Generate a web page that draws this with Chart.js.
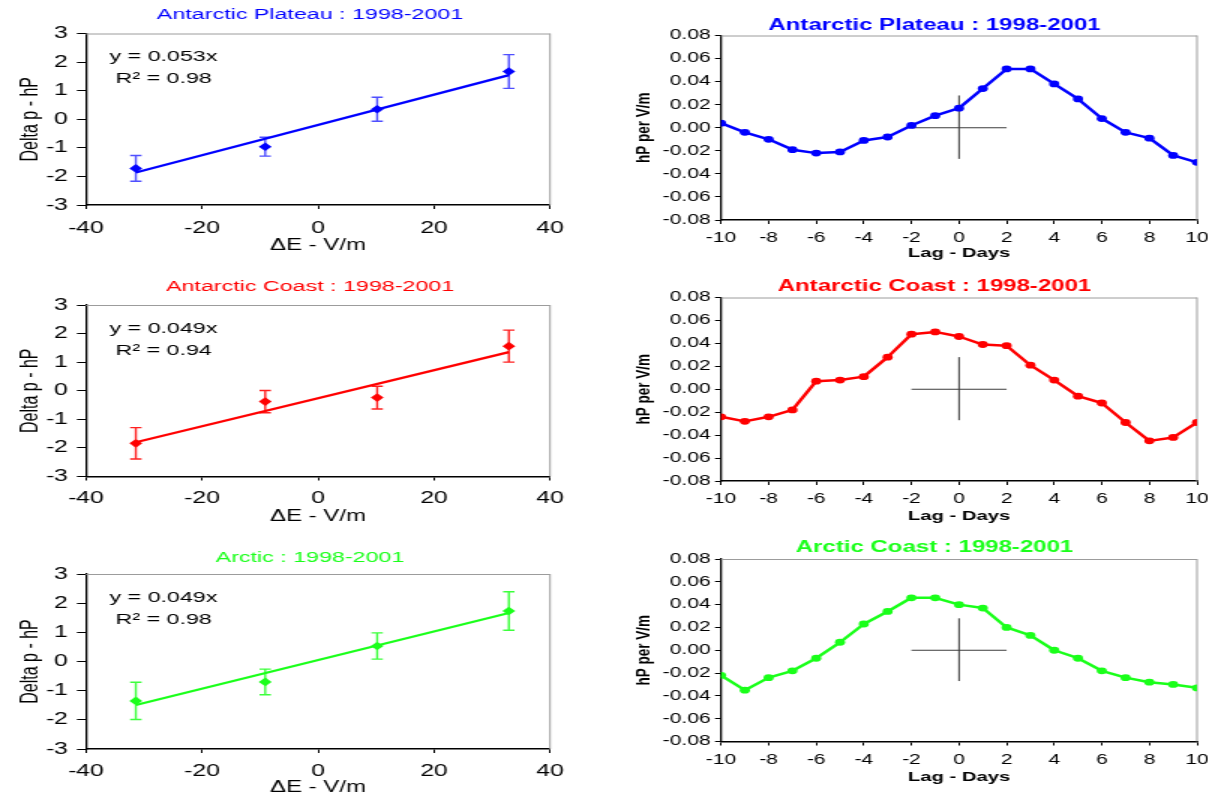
<!DOCTYPE html>
<html>
<head>
<meta charset="utf-8">
<script src="https://cdn.jsdelivr.net/npm/chart.js@4.4.1/dist/chart.umd.min.js"></script>
<style>
  html, body { margin: 0; padding: 0; background: #fff; }
  body { width: 1208px; height: 798px; overflow: hidden; position: relative; }
  .panel { position: absolute; transform-origin: 0 0; transform: scaleX(1.5); }
  .panel canvas { display: block; }
</style>
</head>
<body>
<div class="panel" style="left:0px;top:0px"><canvas id="fitPlateau"></canvas></div>
<div class="panel" style="left:0px;top:265px"><canvas id="fitCoast"></canvas></div>
<div class="panel" style="left:0px;top:535px"><canvas id="fitArctic"></canvas></div>
<div class="panel" style="left:600px;top:0px"><canvas id="lagPlateau"></canvas></div>
<div class="panel" style="left:600px;top:265px"><canvas id="lagCoast"></canvas></div>
<div class="panel" style="left:600px;top:535px"><canvas id="lagArctic"></canvas></div>
<script>
// ---- Pressure response vs. field change (left column) ----
const deltaE = [-31.4, -9.1, 10.2, 32.9];

const plateauDp  = [-1.72, -0.96, 0.35, 1.67];
const plateauErr = [0.45, 0.33, 0.42, 0.59];
const coastDp    = [-1.84, -0.38, -0.24, 1.56];
const coastErr   = [0.55, 0.39, 0.40, 0.56];
const arcticDp   = [-1.35, -0.70, 0.53, 1.73];
const arcticErr  = [0.64, 0.44, 0.45, 0.66];

const fitSlope  = [0.053, 0.049, 0.049];
const fitOffset = [-0.20, -0.26, 0.05];
const fitR2     = [0.98, 0.94, 0.98];

const fitXTicks = [-40, -20, 0, 20, 40];
const fitYTicks = [-3, -2, -1, 0, 1, 2, 3];

// ---- Lagged regression, hP per V/m (right column) ----
const lagDays = [-10, -9, -8, -7, -6, -5, -4, -3, -2, -1, 0, 1, 2, 3, 4, 5, 6, 7, 8, 9, 10];
const plateauLag = [0.004, -0.004, -0.010, -0.019, -0.022, -0.021, -0.011, -0.008, 0.002, 0.0105, 0.017,
                    0.034, 0.051, 0.051, 0.038, 0.025, 0.008, -0.004, -0.009, -0.024, -0.030];
const coastLag   = [-0.024, -0.028, -0.024, -0.018, 0.007, 0.008, 0.011, 0.028, 0.048, 0.050, 0.046,
                    0.039, 0.038, 0.021, 0.008, -0.006, -0.012, -0.029, -0.045, -0.042, -0.029];
const arcticLag  = [-0.022, -0.035, -0.024, -0.018, -0.007, 0.007, 0.023, 0.034, 0.046, 0.046, 0.040,
                    0.037, 0.020, 0.013, 0.000, -0.007, -0.018, -0.024, -0.028, -0.030, -0.033];

const lagXTicks = [-10, -8, -6, -4, -2, 0, 2, 4, 6, 8, 10];
const lagYTicks = [-0.08, -0.06, -0.04, -0.02, 0.00, 0.02, 0.04, 0.06, 0.08];

// reference cross centred on zero lag
const crossLag = [-2, 2];
const crossVal = [-0.027, 0.028];

const FONT = "'Liberation Sans', Arial, Helvetica, sans-serif";
const BLUE = '#0000ff', RED = '#ff0000', GREEN = '#1aff1a';

// Plot frame, error bars, titles and fit annotation
const panelDecor = {
  id: 'panelDecor',
  beforeDatasetsDraw(chart, args, opts) {
    const { ctx, chartArea: a } = chart;
    ctx.save();
    ctx.strokeStyle = '#9c9c9c';
    ctx.lineWidth = 1;
    ctx.beginPath();
    ctx.moveTo(a.left, a.top + 0.5);
    ctx.lineTo(a.right, a.top + 0.5);
    ctx.moveTo(a.right, a.top);
    ctx.lineTo(a.right, a.bottom);
    ctx.stroke();

    const xs = chart.scales.x, ys = chart.scales.y;
    chart.data.datasets.forEach(ds => {
      if (!ds.errors) return;
      ctx.strokeStyle = ds.errorColor;
      ctx.lineWidth = 1.4;
      ds.data.forEach((p, i) => {
        const px = xs.getPixelForValue(p.x);
        const t = ys.getPixelForValue(p.y + ds.errors[i]);
        const b = ys.getPixelForValue(p.y - ds.errors[i]);
        ctx.beginPath();
        ctx.moveTo(px, t); ctx.lineTo(px, b);
        ctx.moveTo(px - 3.8, t); ctx.lineTo(px + 3.8, t);
        ctx.moveTo(px - 3.8, b); ctx.lineTo(px + 3.8, b);
        ctx.stroke();
      });
    });
    ctx.restore();
  },
  afterDraw(chart, args, opts) {
    const { ctx } = chart;
    ctx.save();
    ctx.textAlign = 'center';
    ctx.textBaseline = 'middle';
    ctx.fillStyle = opts.titleColor;
    ctx.font = opts.titleFont;
    ctx.fillText(opts.title, opts.titleX, opts.titleY);
    if (opts.notes) {
      ctx.textAlign = 'left';
      ctx.fillStyle = '#000';
      ctx.font = '15.5px ' + FONT;
      opts.notes.forEach(n => ctx.fillText(n.text, n.x, n.y));
    }
    ctx.restore();
  }
};

function prepCanvas(id, w, h) {
  const c = document.getElementById(id);
  c.width = w; c.height = h;
  c.style.width = w + 'px'; c.style.height = h + 'px';
  return c;
}

function fitPanel(id, p) {
  const W = 400, H = p.H, box = p.box;
  const canvas = prepCanvas(id, W, H);
  const pts = deltaE.map((x, i) => ({ x, y: p.values[i] }));
  const ends = [deltaE[0], deltaE[deltaE.length - 1]];
  const fit = ends.map(x => ({ x, y: p.slope * x + p.offset }));
  new Chart(canvas, {
    type: 'scatter',
    data: {
      datasets: [
        { data: pts, errors: p.errors, errorColor: p.errColor, showLine: false,
          pointStyle: 'rectRot', pointRadius: 4.3, backgroundColor: p.color,
          borderColor: p.color, borderWidth: 0, order: 0 },
        { data: fit, showLine: true, borderColor: p.color, borderWidth: 2.2,
          pointRadius: 0, order: 1 }
      ]
    },
    options: {
      responsive: false, animation: false, devicePixelRatio: 1, events: [],
      layout: { padding: { left: 0, top: box.top, right: W - box.right, bottom: 0 } },
      plugins: {
        legend: { display: false }, tooltip: { enabled: false }, title: { display: false },
        panelDecor: {
          title: p.title, titleColor: p.color, titleFont: '15.5px ' + FONT,
          titleX: 206.7, titleY: p.titleY,
          notes: [
            { text: 'y = ' + p.slope.toFixed(3) + 'x', x: 73, y: p.noteY },
            { text: 'R\u00B2 = ' + p.r2.toFixed(2), x: 77, y: p.noteY + 22 }
          ]
        }
      },
      scales: {
        x: {
          type: 'linear', min: fitXTicks[0], max: fitXTicks[fitXTicks.length - 1],
          afterBuildTicks: s => { s.ticks = fitXTicks.map(v => ({ value: v })); },
          ticks: { padding: p.xPad, font: { family: FONT, size: 16.5 }, color: '#000',
                   maxRotation: 0, autoSkip: false, callback: v => String(v) },
          grid: { drawOnChartArea: false, drawTicks: true, tickLength: 4, color: '#000', lineWidth: 1 },
          border: { display: true, color: '#000', width: 1.5 },
          title: { display: true, text: '\u0394E - V/m', color: '#000',
                   font: { family: FONT, size: 16 }, padding: { top: 0, bottom: p.xTitlePad } },
          afterFit: s => { s.height = H - box.bottom; }
        },
        y: {
          type: 'linear', min: fitYTicks[0], max: fitYTicks[fitYTicks.length - 1],
          afterBuildTicks: s => { s.ticks = fitYTicks.map(v => ({ value: v })); },
          ticks: { padding: 6, font: { family: FONT, size: 16.5 }, color: '#000',
                   autoSkip: false, callback: v => String(v) },
          grid: { drawOnChartArea: false, drawTicks: true, tickLength: 6, color: '#000', lineWidth: 1 },
          border: { display: true, color: '#000', width: 1.3 },
          title: { display: true, text: 'Delta p - hP', color: '#000',
                   font: { family: FONT, size: 16 }, padding: { top: 10.5, bottom: 0 } },
          afterFit: s => { s.width = box.left; }
        }
      }
    },
    plugins: [panelDecor]
  });
}

function lagPanel(id, p) {
  const W = 440, H = p.H, box = p.box;
  const canvas = prepCanvas(id, W, H);
  const pts = lagDays.map((x, i) => ({ x, y: p.values[i] }));
  const crossH = crossLag.map(x => ({ x, y: 0 }));
  const crossV = crossVal.map(y => ({ x: 0, y }));
  new Chart(canvas, {
    type: 'scatter',
    data: {
      datasets: [
        { data: crossH, showLine: true, borderColor: '#3c3c3c', borderWidth: 1, pointRadius: 0, order: 2 },
        { data: crossV, showLine: true, borderColor: '#3c3c3c', borderWidth: 1, pointRadius: 0, order: 2 },
        { data: pts, showLine: true, borderColor: p.color, borderWidth: 2.5,
          pointStyle: 'circle', pointRadius: 3.4, backgroundColor: p.color,
          borderJoinStyle: 'round', pointBorderWidth: 0, order: 0 }
      ]
    },
    options: {
      responsive: false, animation: false, devicePixelRatio: 1, events: [],
      layout: { padding: { left: 0, top: box.top, right: W - box.right, bottom: 0 } },
      plugins: {
        legend: { display: false }, tooltip: { enabled: false }, title: { display: false },
        panelDecor: {
          title: p.title, titleColor: p.color, titleFont: 'bold 16px ' + FONT,
          titleX: 223, titleY: p.titleY
        }
      },
      scales: {
        x: {
          type: 'linear', min: lagXTicks[0], max: lagXTicks[lagXTicks.length - 1],
          afterBuildTicks: s => { s.ticks = lagXTicks.map(v => ({ value: v })); },
          ticks: { padding: p.xPad, font: { family: FONT, size: 14 }, color: '#000',
                   maxRotation: 0, autoSkip: false, callback: v => String(v) },
          grid: { drawOnChartArea: false, drawTicks: true, tickLength: 4, color: '#000', lineWidth: 1 },
          border: { display: true, color: '#000', width: 1.5 },
          title: { display: true, text: 'Lag - Days', color: '#000',
                   font: { family: FONT, size: 13.5, weight: 'bold' }, padding: { top: 0, bottom: p.xTitlePad } },
          afterFit: s => { s.height = H - box.bottom; }
        },
        y: {
          type: 'linear', min: lagYTicks[0], max: lagYTicks[lagYTicks.length - 1],
          afterBuildTicks: s => { s.ticks = lagYTicks.map(v => ({ value: v })); },
          ticks: { padding: 3, font: { family: FONT, size: 14 }, color: '#000', autoSkip: false,
                   callback: v => (Math.abs(v) < 1e-9 ? 0 : v).toFixed(2) },
          grid: { drawOnChartArea: false, drawTicks: true, tickLength: 4, color: '#000', lineWidth: 1 },
          border: { display: true, color: '#000', width: 1.3 },
          title: { display: true, text: 'hP per V/m', color: '#000',
                   font: { family: FONT, size: 13.5, weight: 'bold' }, padding: { top: 21, bottom: 0 } },
          afterFit: s => { s.width = box.left; }
        }
      }
    },
    plugins: [panelDecor]
  });
}

fitPanel('fitPlateau', {
  H: 262, box: { left: 57.3, right: 366.7, top: 33.5, bottom: 205 },
  values: plateauDp, errors: plateauErr, slope: fitSlope[0], offset: fitOffset[0], r2: fitR2[0],
  color: BLUE, errColor: '#4f4fff', title: 'Antarctic Plateau : 1998-2001',
  titleY: 15, noteY: 57, xPad: 9.5, xTitlePad: 7
});
fitPanel('fitCoast', {
  H: 265, box: { left: 57.3, right: 366.7, top: 40, bottom: 211.5 },
  values: coastDp, errors: coastErr, slope: fitSlope[1], offset: fitOffset[1], r2: fitR2[1],
  color: RED, errColor: '#ff2020', title: 'Antarctic Coast : 1998-2001',
  titleY: 22, noteY: 64, xPad: 8, xTitlePad: 4
});
fitPanel('fitArctic', {
  H: 263, box: { left: 57.3, right: 366.7, top: 39, bottom: 214 },
  values: arcticDp, errors: arcticErr, slope: fitSlope[2], offset: fitOffset[2], r2: fitR2[2],
  color: GREEN, errColor: '#3cff3c', title: 'Arctic : 1998-2001',
  titleY: 23, noteY: 63, xPad: 8.5, xTitlePad: 0.5
});

lagPanel('lagPlateau', {
  H: 262, box: { left: 80.7, right: 398, top: 35.5, bottom: 220 },
  values: plateauLag, color: BLUE, title: 'Antarctic Plateau : 1998-2001',
  titleY: 26, xPad: 6, xTitlePad: 0.5
});
lagPanel('lagCoast', {
  H: 265, box: { left: 80.7, right: 398, top: 32.5, bottom: 216 },
  values: coastLag, color: RED, title: 'Antarctic Coast : 1998-2001',
  titleY: 22, xPad: 6, xTitlePad: 5.5
});
lagPanel('lagArctic', {
  H: 263, box: { left: 80.7, right: 398, top: 24, bottom: 206.5 },
  values: arcticLag, color: GREEN, title: 'Arctic Coast : 1998-2001',
  titleY: 13, xPad: 6, xTitlePad: 12.5
});
</script>
</body>
</html>
